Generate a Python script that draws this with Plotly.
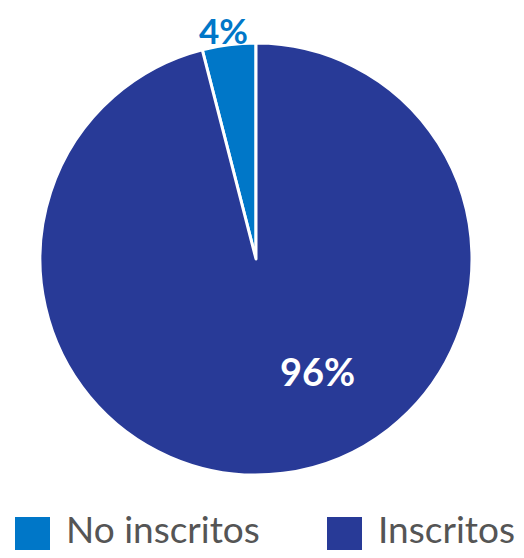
import plotly.graph_objects as go

labels = ["No inscritos", "Inscritos"]
values = [4, 96]
colors = ["#0077C8", "#283A97"]
label_colors = ["#0077C8", "#FFFFFF"]

# the page body adds an 8px margin on every side, so the figure is laid out 16px smaller
W, H = 508, 542
total = sum(values)
pct_text = [f"{round(v / total * 100)}%" for v in values]

fig = go.Figure()
fig.add_trace(go.Pie(
    labels=labels, values=values, sort=False, direction="clockwise",
    rotation=-values[0] / total * 360,
    marker=dict(colors=colors, line=dict(color="white", width=3)),
    textinfo="none",
    domain=dict(x=[32 / W, 464 / W], y=[1 - 467 / H, 1 - 35 / H]),
    showlegend=False, hoverinfo="label+percent",
))

# percentage labels
fig.add_annotation(x=215 / W, y=1, xref="paper", yref="paper",
                   xanchor="center", yanchor="top", showarrow=False,
                   text=pct_text[0], borderpad=0,
                   font=dict(family="Lato", size=35, color=label_colors[0], weight="bold"))
fig.add_annotation(x=309 / W, y=1 - 363 / H, xref="paper", yref="paper",
                   xanchor="center", yanchor="middle", showarrow=False,
                   text=pct_text[1],
                   font=dict(family="Lato", size=38, color=label_colors[1], weight="bold"))

# legend drawn from labels/colors
sw_x = [7, 319]
for lab, col, x in zip(labels, colors, sw_x):
    fig.add_shape(type="rect", xref="paper", yref="paper",
                  x0=x / W, x1=(x + 35) / W, y0=0, y1=1 - 509 / H,
                  fillcolor=col, line=dict(width=0))
    fig.add_annotation(x=(x + 49) / W, y=0, xref="paper", yref="paper",
                       xanchor="left", yanchor="bottom", showarrow=False,
                       text=lab, yshift=-3,
                       font=dict(family="Lato", size=37, color="#555555"))

fig.update_layout(width=W, height=H, margin=dict(l=0, r=0, t=0, b=0),
                  paper_bgcolor="white", plot_bgcolor="white")
fig.write_html("out.html")
